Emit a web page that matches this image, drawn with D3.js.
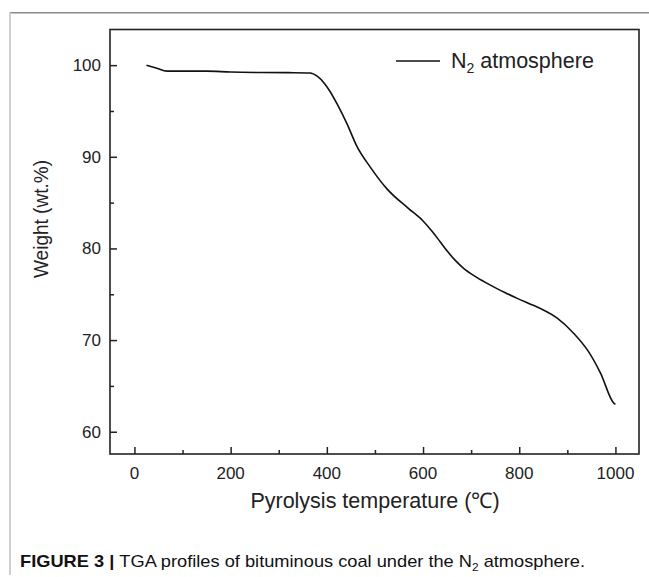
<!DOCTYPE html>
<html><head><meta charset="utf-8">
<script src="https://cdn.jsdelivr.net/npm/d3@7"></script>
<style>html,body{margin:0;padding:0;background:#fff;} svg{display:block;font-family:"Liberation Sans",Arial,sans-serif;}</style>
</head><body>
<svg id="c" width="649" height="577"></svg>
<script>
const temperature = [25, 45, 68, 100, 150, 200, 261, 320, 365, 380, 395, 407, 421, 442, 462, 490, 525, 570, 600, 620, 636, 652, 667, 685, 710, 740, 770, 796, 820, 844, 879, 914, 942, 969, 997, 1000];
const weight      = [100.0, 99.7, 99.35, 99.35, 99.35, 99.25, 99.2, 99.18, 99.15, 98.8, 98.0, 97.1, 95.8, 93.6, 91.2, 88.9, 86.5, 84.35, 83.0, 81.8, 80.7, 79.6, 78.7, 77.8, 76.9, 76.0, 75.2, 74.55, 74.0, 73.45, 72.4, 70.7, 68.9, 66.4, 63.1, 63.0];
const xMajorTicks = [0, 200, 400, 600, 800, 1000];
const xMinorTicks = [100, 300, 500, 700, 900];
const yMajorTicks = [60, 70, 80, 90, 100];
const yMinorTicks = [65, 75, 85, 95];

const svg = d3.select("#c");
const L = 110, R = 639, T = 29.5, B = 454;
const x = d3.scaleLinear().domain([-50.8, 1049]).range([L, R]);
const y = d3.scaleLinear().domain([57.57, 103.89]).range([B, T]);

// page frame lines
svg.append("line").attr("x1",10).attr("x2",649).attr("y1",12.7).attr("y2",12.7).attr("stroke","#8a8a8a").attr("stroke-width",1.6);
svg.append("line").attr("x1",10).attr("x2",10).attr("y1",12).attr("y2",575).attr("stroke","#c4c4c4").attr("stroke-width",1.6);

const axisColor = "#222";
svg.append("rect").attr("x",L).attr("y",T).attr("width",R-L).attr("height",B-T)
  .attr("fill","none").attr("stroke",axisColor).attr("stroke-width",1.6);

// x axis
const gx = svg.append("g").attr("transform",`translate(0,${B})`);
gx.call(d3.axisTop(x).tickValues(xMajorTicks).tickSize(7).tickFormat(""));
gx.append("g").call(d3.axisTop(x).tickValues(xMinorTicks).tickSize(4).tickFormat(""));
gx.selectAll(".domain").remove();
gx.selectAll("line").attr("stroke",axisColor).attr("stroke-width",1.5);
svg.append("g").selectAll("text").data(xMajorTicks).join("text")
  .attr("x",d=>x(d)).attr("y",479).attr("text-anchor","middle")
  .attr("font-size",17).attr("fill","#222").text(d=>d);

// y axis
const gy = svg.append("g").attr("transform",`translate(${L},0)`);
gy.call(d3.axisRight(y).tickValues(yMajorTicks).tickSize(7).tickFormat(""));
gy.append("g").call(d3.axisRight(y).tickValues(yMinorTicks).tickSize(4).tickFormat(""));
gy.selectAll(".domain").remove();
gy.selectAll("line").attr("stroke",axisColor).attr("stroke-width",1.5);
svg.append("g").selectAll("text").data(yMajorTicks).join("text")
  .attr("x",101).attr("y",d=>y(d)+6).attr("text-anchor","end")
  .attr("font-size",17).attr("fill","#222").text(d=>d);

// titles
svg.append("text").attr("x",375).attr("y",508).attr("text-anchor","middle")
  .attr("font-size",21.5).attr("fill","#222").text("Pyrolysis temperature (℃)");
svg.append("text").attr("transform","translate(48,219) rotate(-90)").attr("text-anchor","middle")
  .attr("font-size",20).attr("fill","#222").attr("textLength",118).attr("lengthAdjust","spacingAndGlyphs").text("Weight (wt.%)");

// line
const data = temperature.map((t,i)=>({t, w: weight[i]}));
svg.append("path").datum(data)
  .attr("d", d3.line().x(d=>x(d.t)).y(d=>y(d.w)).curve(d3.curveMonotoneX))
  .attr("fill","none").attr("stroke","#111").attr("stroke-width",1.6);

// legend
svg.append("line").attr("x1",396).attr("x2",440).attr("y1",61).attr("y2",61).attr("stroke","#111").attr("stroke-width",1.6);
const lt = svg.append("text").attr("x",451).attr("y",68).attr("font-size",21.5).attr("fill","#222");
lt.append("tspan").text("N");
lt.append("tspan").attr("font-size",14).attr("dy",5).text("2");
lt.append("tspan").attr("dy",-5).text(" atmosphere");

// caption
const cap = svg.append("text").attr("x",20).attr("y",567).attr("font-size",17).attr("fill","#111")
  .attr("textLength",565).attr("lengthAdjust","spacingAndGlyphs");
cap.append("tspan").attr("font-weight","bold").text("FIGURE 3 | ");
cap.append("tspan").text("TGA profiles of bituminous coal under the N");
cap.append("tspan").attr("font-size",11).attr("dy",4).text("2");
cap.append("tspan").attr("dy",-4).text(" atmosphere.");
</script>
</body></html>
